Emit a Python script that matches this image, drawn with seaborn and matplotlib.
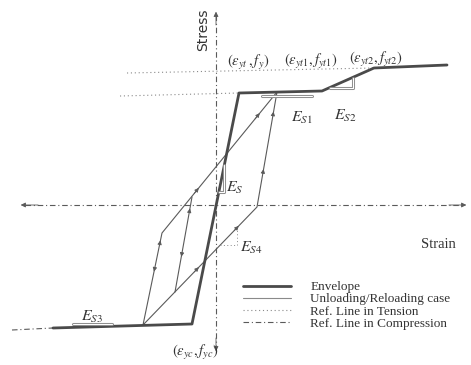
import matplotlib
matplotlib.use("Agg")
import matplotlib.pyplot as plt
from matplotlib.lines import Line2D
import seaborn as sns
import pandas as pd

# schematic values (strain, stress in arbitrary units)
env_strain = [-163, -24, 23, 106, 158, 231]
env_stress = [-123, -119, 112, 114, 137, 140]

# outer unloading / reloading loop
cyc_strain = [61, 41, -73, -54, 61]
cyc_stress = [113, -2, -120, -28, 113]

# inner reloading branch
inner_strain = [-41, -24]
inner_stress = [-87, 8]

# reference lines in tension
ref_t1_strain = [-96, 23]
ref_t1_stress = [109, 112]
ref_t2_strain = [-89, 158]
ref_t2_stress = [132, 137]

# reference lines in compression (axes + extension of compression branch)
ax_h_strain = [-191, 246]
ax_h_stress = [0, 0]
ax_v_strain = [0, 0]
ax_v_stress = [190, -143]
ref_c_strain = [-204, -163]
ref_c_stress = [-125, -123]

# slope markers
es_strain = [8, 8, 3]
es_stress = [40, 13, 13]
es4_strain = [4, 21, 21]
es4_stress = [-40, -40, -23]
es1_strain = [46, 96]
es1_stress = [109, 109]
es2_strain = [114, 137, 137]
es2_stress = [117, 117, 127]
es3_strain = [-143, -104]
es3_stress = [-119, -119]

sns.set_style("white")
plt.rcParams["font.family"] = ["Liberation Serif", "DejaVu Serif"]
plt.rcParams["mathtext.fontset"] = "stix"

fig = plt.figure(figsize=(4.71, 3.65), dpi=100)
ax = fig.add_axes([0, 0, 1, 1])
ax.set_xlim(-216, 255)
ax.set_ylim(-160, 205)
ax.axis("off")

dark = "#4a4a4a"
thin = "#5a5a5a"
light = "#8a8a8a"
dashdot = (0, (5, 2.5, 1, 2.5))
dotted = (0, (1, 2.5))


def line(xs, ys, **kw):
    df = pd.DataFrame({"strain": xs, "stress": ys})
    sns.lineplot(data=df, x="strain", y="stress", sort=False, estimator=None,
                 ax=ax, legend=False, **kw)


def head(xs, ys, i, frac, up=True, color=thin, size=6):
    x0, y0, x1, y1 = xs[i], ys[i], xs[i + 1], ys[i + 1]
    px, py = x0 + frac * (x1 - x0), y0 + frac * (y1 - y0)
    dx, dy = (x1 - x0) * 0.02, (y1 - y0) * 0.02
    if not up:
        dx, dy = -dx, -dy
    ax.annotate("", xy=(px + dx, py + dy), xytext=(px - dx, py - dy),
                arrowprops=dict(arrowstyle="-|>", color=color, lw=0.6,
                                mutation_scale=size, shrinkA=0, shrinkB=0))


# reference lines
line(ax_h_strain, ax_h_stress, color=thin, lw=0.8, linestyle=dashdot)
line(ax_v_strain, ax_v_stress, color=thin, lw=0.8, linestyle=dashdot)
line(ref_c_strain, ref_c_stress, color=thin, lw=0.8, linestyle=dashdot)
line(ref_t1_strain, ref_t1_stress, color=light, lw=0.8, linestyle=dotted)
line(ref_t2_strain, ref_t2_stress, color=light, lw=0.8, linestyle=dotted)

# axis end arrows
head(ax_h_strain, ax_h_stress, 0, 0.99, up=True, size=7)
head(ax_h_strain, ax_h_stress, 0, 0.01, up=False, size=7)
head(ax_v_strain, ax_v_stress, 0, 0.01, up=False, size=7)
head(ax_v_strain, ax_v_stress, 0, 0.99, up=True, size=7)

# unloading / reloading
line(cyc_strain, cyc_stress, color=thin, lw=0.8)
line(inner_strain, inner_stress, color=thin, lw=0.8)
head(cyc_strain, cyc_stress, 0, 0.19, up=False)
head(cyc_strain, cyc_stress, 0, 0.69, up=False)
head(cyc_strain, cyc_stress, 1, 0.18, up=False)
head(cyc_strain, cyc_stress, 1, 0.53, up=False)
head(cyc_strain, cyc_stress, 2, 0.6, up=False)
head(cyc_strain, cyc_stress, 2, 0.9, up=True)
head(cyc_strain, cyc_stress, 3, 0.83, up=True)
head(cyc_strain, cyc_stress, 3, 0.3, up=True)
head(inner_strain, inner_stress, 0, 0.86, up=True)
head(inner_strain, inner_stress, 0, 0.39, up=False)

# envelope
line(env_strain, env_stress, color=dark, lw=2.0)

# slope markers
line(es_strain, es_stress, color=light, lw=2.2)
line(es_strain, es_stress, color="white", lw=0.8)
line(es4_strain, es4_stress, color=light, lw=0.7, linestyle=dotted)
for xs, ys in [(es1_strain, es1_stress), (es2_strain, es2_stress), (es3_strain, es3_stress)]:
    line(xs, ys, color=light, lw=2.2)
    line(xs, ys, color="white", lw=0.8)

tc = "#333333"
ax.text(-13, 175, "Stress", rotation=90, ha="center", va="center",
        family=["DejaVu Sans"], fontsize=10, color=tc)
ax.text(222, -40, "Strain", ha="center", va="center", fontsize=10.5, color=tc)
ax.text(32, 142, r"$(\varepsilon_{yt}\,,f_y)$", ha="center", va="center", fontsize=10.5, color=tc)
ax.text(95, 143, r"$(\varepsilon_{yt1},f_{yt1})$", ha="center", va="center", fontsize=10.5, color=tc)
ax.text(160, 145, r"$(\varepsilon_{yt2},f_{yt2})$", ha="center", va="center", fontsize=10.5, color=tc)
ax.text(-21, -147, r"$(\varepsilon_{yc},f_{yc})$", ha="center", va="center", fontsize=10.5, color=tc)
ax.text(86, 87, r"$E_{S1}$", ha="center", va="center", fontsize=11.5, color=tc)
ax.text(129, 89, r"$E_{S2}$", ha="center", va="center", fontsize=11.5, color=tc)
ax.text(19, 17, r"$E_S$", ha="center", va="center", fontsize=11.5, color=tc)
ax.text(35, -43, r"$E_{S4}$", ha="center", va="center", fontsize=11.5, color=tc)
ax.text(-124, -112, r"$E_{S3}$", ha="center", va="center", fontsize=11.5, color=tc)

handles = [
    Line2D([], [], color=dark, lw=2.0),
    Line2D([], [], color=light, lw=0.8),
    Line2D([], [], color=light, lw=0.8, linestyle=dotted),
    Line2D([], [], color=thin, lw=0.8, linestyle=dashdot),
]
labels = ["Envelope", "Unloading/Reloading case", "Ref. Line in Tension",
          "Ref. Line in Compression"]
ax.legend(handles, labels, loc="upper left", bbox_to_anchor=(243 / 471, 1 - 281 / 365),
          frameon=False, fontsize=9.5, handlelength=3.6, handletextpad=1.5,
          labelspacing=0.0, borderpad=0, borderaxespad=0, labelcolor=tc)

fig.savefig("out.png", dpi=100, facecolor="white")
